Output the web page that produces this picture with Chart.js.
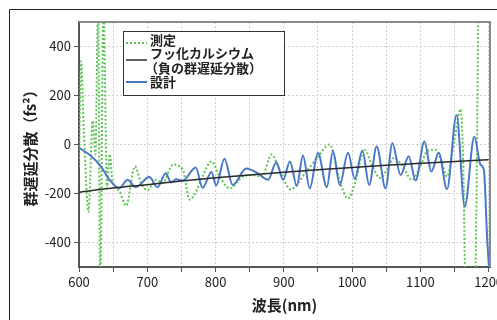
<!DOCTYPE html>
<html>
<head>
<meta charset="utf-8">
<script src="https://cdn.jsdelivr.net/npm/chart.js@4"></script>
<style>
  html, body { margin: 0; padding: 0; background: #fff; }
  canvas { display: block; }
</style>
</head>
<body>
<canvas id="grafica" width="497" height="320"></canvas>
<script>
// 目盛り
const xTicks = [600, 650, 700, 750, 800, 850, 900, 950, 1000, 1050, 1100, 1150, 1200];
const yTicks = [-400, -200, 0, 200, 400];

// 設計 (nm, fs^2)
const disenoNm = [600, 615, 632, 645, 659, 671, 683, 703, 715, 727, 735, 742, 752, 771, 781, 794, 801,
  813, 825, 845, 862, 877, 889, 899, 909, 919, 928, 938, 950, 963, 972, 982, 994, 1004, 1015, 1025,
  1036, 1049, 1059, 1071, 1083, 1093, 1106, 1116, 1127, 1139, 1153, 1165, 1179, 1188, 1193, 1198, 1201];
const disenoGdd = [-14, -41, -89, -145, -179, -144, -174, -133, -174, -117, -155, -142, -147, -94, -177, -112, -167,
  -58, -165, -98, -118, -144, -72, -144, -69, -169, -45, -179, -34, -174, -27, -165, -34, -140, -24, -165,
  -8, -179, 5, -124, -48, -147, 12, -110, -34, -183, 120, -254, 32, -82, -103, -392, -520];

// 測定
const medidoNm = [600, 603, 607, 614, 620, 624, 628, 631, 636, 641, 645, 649, 659, 669, 682, 691, 700,
  713, 722, 738, 752, 762, 770, 781, 794, 806, 821, 840, 855, 868, 882, 896, 910, 933, 950, 967, 982,
  994, 1005, 1018, 1030, 1041, 1051, 1061, 1072, 1088, 1100, 1110, 1122, 1131, 1139, 1150, 1159, 1163,
  1166, 1180, 1185];
const medidoGdd = [-90, 340, 60, -275, 96, -40, 560, -560, 560, -177, -40, -150, -190, -250, -89, -158, -186,
  -144, -158, -82, -103, -225, -200, -130, -69, -131, -179, -131, -125, -131, -41, -120, -183, -110, -50, 0, -150,
  -220, -150, -21, -90, -137, -103, -55, -80, -144, -89, -27, -21, -70, -131, 20, 144, -100,
  -560, -560, 560];

// フッ化カルシウム
const caf2Nm = [600, 650, 700, 750, 800, 850, 900, 950, 1000, 1050, 1100, 1150, 1200];
const caf2Gdd = [-195, -178, -164, -149, -136, -124, -113, -103, -94, -85, -77, -69, -62];

const fuente = '"Noto Sans CJK JP", "Noto Sans", sans-serif';

function puntos(xs, ys) {
  return xs.map((x, i) => ({ x: x, y: ys[i] }));
}

// Marco exterior, borde del área y leyenda
const marcoPlugin = {
  id: "marco",
  beforeDraw(chart) {
    const ctx = chart.ctx;
    ctx.save();
    ctx.fillStyle = "#fff";
    ctx.fillRect(0, 0, chart.width, chart.height);
    ctx.strokeStyle = "#222";
    ctx.lineWidth = 1;
    ctx.beginPath();
    ctx.moveTo(9.5, chart.height);
    ctx.lineTo(9.5, 9.5);
    ctx.lineTo(chart.width, 9.5);
    ctx.stroke();
    ctx.restore();
  },
  afterDatasetsDraw(chart) {
    const ctx = chart.ctx;
    const a = chart.chartArea;
    ctx.save();
    ctx.strokeStyle = "#8a8a8a";
    ctx.lineWidth = 2;
    ctx.beginPath();
    ctx.moveTo(a.left, a.top);
    ctx.lineTo(a.right, a.top);
    ctx.lineTo(a.right, a.bottom);
    ctx.stroke();
    ctx.restore();
  },
  afterDraw(chart) {
    const ctx = chart.ctx;
    const ds = chart.data.datasets;
    ctx.save();
    ctx.fillStyle = "#fff";
    ctx.fillRect(123, 31, 161, 64);
    ctx.strokeStyle = "#333";
    ctx.lineWidth = 1;
    ctx.strokeRect(123.5, 31.5, 161, 64);

    const muestra = (d, y) => {
      ctx.strokeStyle = d.borderColor;
      ctx.lineWidth = d.borderWidth;
      ctx.setLineDash(d.borderDash || []);
      ctx.beginPath();
      ctx.moveTo(126, y);
      ctx.lineTo(147, y);
      ctx.stroke();
      ctx.setLineDash([]);
    };
    muestra(ds[0], 43);
    muestra(ds[1], 60);
    muestra(ds[2], 82);

    ctx.fillStyle = "#222";
    ctx.font = "bold 13px " + fuente;
    ctx.textBaseline = "middle";
    ctx.fillText("測定", 150, 40);
    ctx.fillText("フッ化カルシウム", 150, 53);
    ctx.fillText("（負の群遅延分散）", 145, 68);
    ctx.fillText("設計", 150, 82);
    ctx.restore();
  },
};

const ctx = document.getElementById("grafica").getContext("2d");

new Chart(ctx, {
  type: "line",
  data: {
    datasets: [
      {
        label: "測定",
        data: puntos(medidoNm, medidoGdd),
        borderColor: "#5cc451",
        borderWidth: 2,
        borderDash: [2, 2],
        pointRadius: 0,
        cubicInterpolationMode: "monotone",
        order: 3,
      },
      {
        label: "フッ化カルシウム（負の群遅延分散）",
        data: puntos(caf2Nm, caf2Gdd),
        borderColor: "#2a2a2a",
        borderWidth: 1.5,
        pointRadius: 0,
        cubicInterpolationMode: "monotone",
        order: 1,
      },
      {
        label: "設計",
        data: puntos(disenoNm, disenoGdd),
        borderColor: "#4a78c8",
        borderWidth: 2,
        pointRadius: 0,
        cubicInterpolationMode: "monotone",
        order: 2,
      },
    ],
  },
  options: {
    responsive: false,
    animation: false,
    devicePixelRatio: 1,
    layout: {
      autoPadding: false,
      padding: { left: 0, top: 22, right: 7, bottom: 0 },
    },
    plugins: {
      legend: { display: false },
      tooltip: { enabled: false },
    },
    scales: {
      x: {
        type: "linear",
        min: 600,
        max: 1202,
        afterBuildTicks: (s) => { s.ticks = xTicks.map((v) => ({ value: v })); },
        afterFit: (s) => { s.height = 53; s.paddingLeft = 0; s.paddingRight = 0; },
        ticks: {
          autoSkip: false,
          maxRotation: 0,
          padding: 2,
          color: "#222",
          font: { family: fuente, size: 13 },
          callback: (v) => (v % 100 === 0 ? String(v) : ""),
        },
        grid: {
          color: "#cfcfcf",
          tickColor: "#555",
          tickLength: 5,
          lineWidth: 1,
        },
        border: { color: "#555", width: 2, dash: [2, 2] },
        title: {
          display: true,
          text: "波長(nm)",
          color: "#222",
          font: { family: fuente, size: 15, weight: "bold" },
          padding: { top: 0, bottom: 6 },
        },
      },
      y: {
        type: "linear",
        min: -500,
        max: 500,
        afterBuildTicks: (s) => { s.ticks = yTicks.map((v) => ({ value: v })); },
        afterFit: (s) => { s.width = 79; },
        ticks: {
          padding: 3,
          color: "#222",
          font: { family: fuente, size: 13 },
        },
        grid: {
          color: "#cfcfcf",
          tickColor: "#555",
          tickLength: 5,
          lineWidth: 1,
        },
        border: { color: "#555", width: 2, dash: [2, 2] },
        title: {
          display: true,
          text: "群遅延分散（fs²）",
          color: "#222",
          font: { family: fuente, size: 15, weight: "bold" },
          padding: { top: 21, bottom: 0 },
        },
      },
    },
  },
  plugins: [marcoPlugin],
});
</script>
</body>
</html>
